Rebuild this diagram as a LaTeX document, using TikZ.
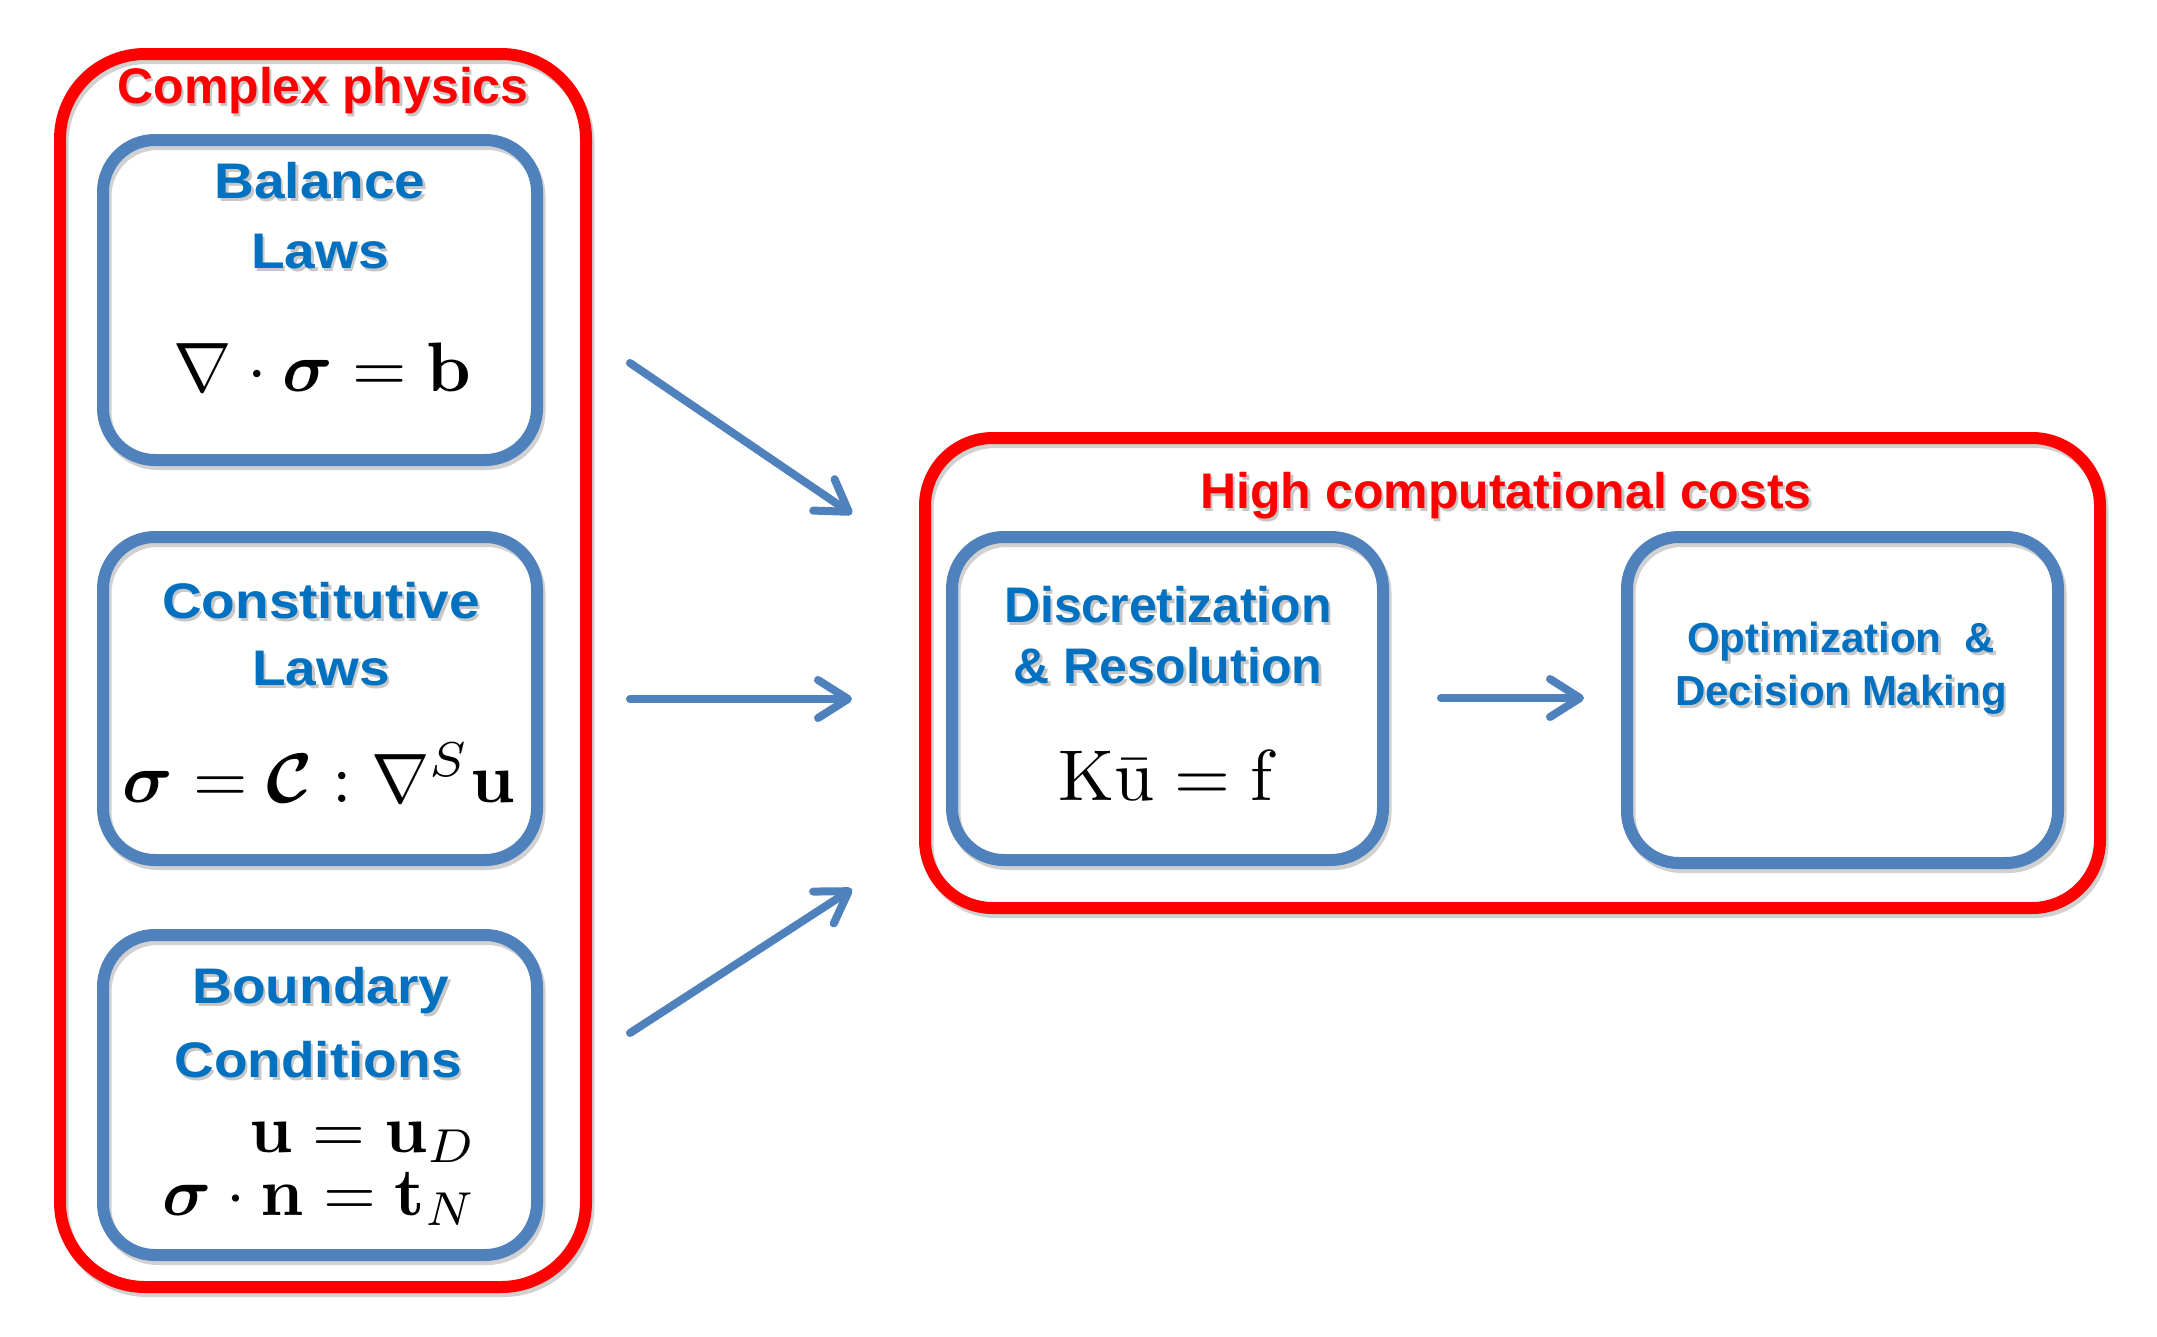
\documentclass[tikz,border=0pt]{standalone}
\usepackage{amsmath}
\usepackage{bm}
\usepackage[no-math]{fontspec}
\setmainfont{Liberation Sans}
\newfontfamily\labfont{Liberation Sans}[FakeStretch=1.1]
\newfontfamily\plainlab{Liberation Sans}
\usetikzlibrary{arrows.meta}
\definecolor{txtblue}{HTML}{0070C0}
\definecolor{boxblue}{HTML}{4F81BD}
\definecolor{pred}{HTML}{FF0000}
\newcommand\shnode[4]{%
  \node[#3, text=black!22, xshift=2.5pt, yshift=-3.5pt] at #1 {#4};
  \node[#3] (#2) at #1 {#4};}
\newcommand\scaledmath[2]{\scalebox{#1}{\fontsize{10}{12}\selectfont$#2$}}
\begin{document}
\begin{tikzpicture}[x=1pt,y=-1pt,
  redbox/.style={draw=pred, line width=12pt, rounded corners=85pt, inner sep=0pt,
     preaction={draw=black!18, line width=12pt, transform canvas={shift={(2.5pt,-4pt)}}}},
  redbox2/.style={redbox, rounded corners=68pt},
  bluebox/.style={draw=boxblue, line width=12pt, rounded corners=52pt, inner sep=0pt,
     preaction={draw=black!18, line width=12pt, transform canvas={shift={(2.5pt,-4pt)}}}},
  redtitle/.style={anchor=base, inner sep=0pt, text=pred, font=\plainlab\fontsize{50}{60}\selectfont\bfseries},
  lefttxt/.style={anchor=base, inner sep=0pt, text=txtblue, font=\labfont\fontsize{50}{60}\selectfont\bfseries},
  righttxt/.style={anchor=base, inner sep=0pt, text=txtblue, font=\plainlab\fontsize{50}{60}\selectfont\bfseries},
  smalltxt/.style={anchor=base, inner sep=0pt, text=txtblue, font=\plainlab\fontsize{42}{50}\selectfont\bfseries},
  mathtxt/.style={anchor=base, inner sep=0pt, text=black},
  mathtxtb/.style={anchor=base east, inner sep=0pt, text=black},
  arr/.style={draw=boxblue, line width=8pt, line cap=round,
     -{Straight Barb[length=30pt,width=38pt,round]}}
]
\useasboundingbox (0,0) rectangle (2157,1336);
\fill[white] (0,0) rectangle (2157,1336);

% outer red boxes
\node[redbox, minimum width=526pt, minimum height=1233pt] (phys) at (323,670.5) {};
\node[redbox2, minimum width=1175pt, minimum height=470pt] (cost) at (1512.5,673) {};

% blue boxes
\node[bluebox, minimum width=434pt, minimum height=320pt] (bal) at (320,300) {};
\node[bluebox, minimum width=434pt, minimum height=323pt] (con) at (320,698.5) {};
\node[bluebox, minimum width=434pt, minimum height=320pt] (bc) at (320,1095) {};
\node[bluebox, minimum width=431pt, minimum height=323pt] (disc) at (1167.5,698.5) {};
\node[bluebox, minimum width=431pt, minimum height=326pt] (opt) at (1842.5,700) {};

% titles
\shnode{(323,103)}{tphys}{redtitle}{Complex physics}
\shnode{(1506,508)}{tcost}{redtitle}{High computational costs}

% left column texts
\shnode{(320,198)}{bal1}{lefttxt}{Balance}
\shnode{(320,268)}{bal2}{lefttxt}{Laws}
\node[mathtxt] (balf) at (322,391) {\scaledmath{7}{\nabla\cdot\bm{\sigma}=\mathbf{b}}};

\shnode{(321,618)}{con1}{lefttxt}{Constitutive}
\shnode{(321,685)}{con2}{lefttxt}{Laws}
\node[mathtxt] (conf) at (319,802) {\scaledmath{7}{\bm{\sigma}=\bm{\mathcal{C}}:\nabla^{S}\mathbf{u}}};

\shnode{(321,1003)}{bc1}{lefttxt}{Boundary}
\shnode{(318,1077)}{bc2}{lefttxt}{Conditions}
\node[mathtxtb] (bcf1) at (477,1152) {\scaledmath{6.8}{\mathbf{u}=\mathbf{u}_D}};
\node[mathtxtb] (bcf2) at (477,1215) {\scaledmath{6.8}{\bm{\sigma}\cdot\mathbf{n}=\mathbf{t}_N}};

% right texts
\shnode{(1168,622)}{disc1}{righttxt}{Discretization}
\shnode{(1168,683)}{disc2}{righttxt}{\&\ Resolution}
\node[mathtxt] (discf) at (1168,800) {\scaledmath{7.2}{\mathrm{K}\bar{\mathrm{u}}=\mathrm{f}}};

\shnode{(1841,652)}{opt1}{smalltxt}{Optimization\ \ \&}
\shnode{(1841,705)}{opt2}{smalltxt}{Decision Making}

% arrows
\coordinate (a1s) at (630,363);  \coordinate (a1e) at (852,514);
\coordinate (a2s) at (630,699);  \coordinate (a2e) at (852,699);
\coordinate (a3s) at (630,1033); \coordinate (a3e) at (852,889);
\coordinate (a4s) at (1441,698); \coordinate (a4e) at (1584,698);
\draw[arr] (a1s) -- (a1e);
\draw[arr] (a2s) -- (a2e);
\draw[arr] (a3s) -- (a3e);
\draw[arr] (a4s) -- (a4e);
\end{tikzpicture}
\end{document}
